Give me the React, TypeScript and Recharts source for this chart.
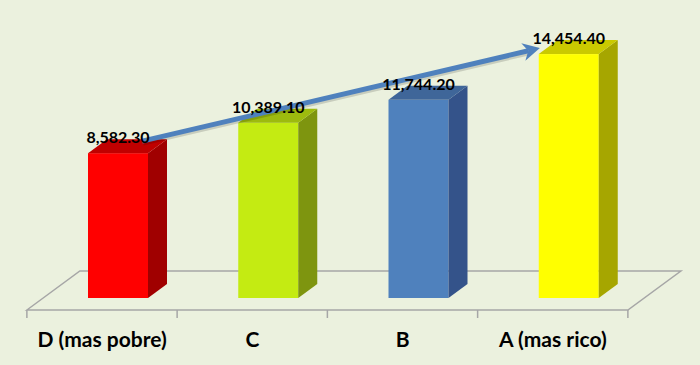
import React from 'react';
import { BarChart, Bar, XAxis, YAxis, LabelList, ReferenceLine } from 'recharts';

// ---- data ----
const categories = ['D (mas pobre)', 'C', 'B', 'A (mas rico)'];
const values = [8582.3, 10389.1, 11744.2, 14454.4];
const valueLabels = ['8,582.30', '10,389.10', '11,744.20', '14,454.40'];
const frontColors = ['#FF0000', '#C4EB12', '#4F81BD', '#FFFF00'];
const sideColors = ['#A00000', '#7E950F', '#34538A', '#A6A600'];
const topColors = ['#C00000', '#9DBB0E', '#3F6699', '#CACA00'];

const data = categories.map((c, i) => ({ name: c, value: values[i], label: valueLabels[i] }));

// ---- layout ----
const W = 700;
const H = 365;
const M = { top: 40, right: 72, bottom: 10, left: 27 };
const X_AXIS_H = 45;
const PLOT_W = W - M.left - M.right;
const BAND = PLOT_W / categories.length;
const BAR = 60;
const SHIFT_X = 16;
const SHIFT_Y = 12;
const DEPTH_X = 19;
const DEPTH_Y = 14;
const FLOOR_X = 53;
const FLOOR_Y = 39;
const FONT = 'Lato, "Open Sans", sans-serif';

const Bar3D = (props: any) => {
  const { x, y, width, height, index } = props;
  if (!height || height <= 0) return null;
  const fx = x + SHIFT_X;
  const fy = y - SHIFT_Y;
  const w = width;
  const h = height;
  const side = `${fx + w},${fy} ${fx + w + DEPTH_X},${fy - DEPTH_Y} ${fx + w + DEPTH_X},${fy + h - DEPTH_Y} ${fx + w},${fy + h}`;
  const top = `${fx},${fy} ${fx + DEPTH_X},${fy - DEPTH_Y} ${fx + w + DEPTH_X},${fy - DEPTH_Y} ${fx + w},${fy}`;
  return (
    <g>
      <rect x={fx} y={fy} width={w} height={h} fill={frontColors[index]} />
      <polygon points={side} fill={sideColors[index]} />
      <polygon points={top} fill={topColors[index]} />
    </g>
  );
};

const FloorBg = (props: any) => {
  const { x, y, height, index } = props;
  if (index !== 0) return <g />;
  const left = x - (BAND - BAR) / 2;
  const bottom = y + height;
  const right = left + PLOT_W;
  const pts = `${left},${bottom} ${left + FLOOR_X},${bottom - FLOOR_Y} ${right + FLOOR_X},${bottom - FLOOR_Y} ${right},${bottom}`;
  const ticks = [];
  for (let i = 0; i <= categories.length; i++) {
    const tx = left + i * BAND;
    ticks.push(<line key={i} x1={tx} x2={tx} y1={bottom} y2={bottom + 8} stroke="#A6A6A6" strokeWidth={1.5} />);
  }
  return (
    <g>
      <polygon points={pts} fill="none" stroke="#A6A6A6" strokeWidth={1.5} />
      {ticks}
    </g>
  );
};

const Arrow = (p: any) => {
  if (p.x1 == null) return null;
  const x1 = p.x1 + 40;
  const y1 = p.y1 - 24;
  const x2 = p.x2 - 13;
  const y2 = p.y2 - 18;
  const dx = x2 - x1;
  const dy = y2 - y1;
  const len = Math.sqrt(dx * dx + dy * dy);
  const ux = dx / len;
  const uy = dy / len;
  const nx = -uy;
  const ny = ux;
  const L = 17;
  const HW = 9;
  const bx = x2 - ux * L;
  const by = y2 - uy * L;
  const notchX = x2 - ux * L * 0.7;
  const notchY = y2 - uy * L * 0.7;
  const head = `${x2},${y2} ${bx + nx * HW},${by + ny * HW} ${notchX},${notchY} ${bx - nx * HW},${by - ny * HW}`;
  return (
    <g>
      <line x1={x1 + 1} y1={y1 + 2} x2={notchX + 1} y2={notchY + 2} stroke="rgba(0,0,0,0.15)" strokeWidth={5} />
      <line x1={x1} y1={y1} x2={notchX} y2={notchY} stroke="#4F81BD" strokeWidth={5} />
      <polygon points={head} fill="#4F81BD" />
    </g>
  );
};

const Tick = (props: any) => {
  const { x, y, payload } = props;
  return (
    <text x={x} y={y + 37} textAnchor="middle" fontFamily={FONT} fontWeight="bold" fontSize={21} fill="#000">
      {payload.value}
    </text>
  );
};

const ValueLabel = (p: any) => {
  const { x, y, width, value } = p;
  return (
    <text x={x + width / 2 + SHIFT_X} y={y - SHIFT_Y - 10} textAnchor="middle" fontFamily={FONT} fontWeight="bold" fontSize={16} fill="#000">
      {value}
    </text>
  );
};

export default function App() {
  return (
    <div style={{ position: 'fixed', left: 0, top: 0, width: W, height: H, background: '#EBF1DE' }}>
      <BarChart width={W} height={H} data={data} margin={M} barSize={BAR}>
        <XAxis
          dataKey="name"
          height={X_AXIS_H}
          axisLine={false}
          tickLine={false}
          tickSize={0}
          tickMargin={0}
          interval={0}
          tick={<Tick />}
        />
        <YAxis hide domain={[0, 16000]} />
        <Bar dataKey="value" isAnimationActive={false} shape={<Bar3D />} background={<FloorBg />}>
          <LabelList dataKey="label" content={<ValueLabel />} />
        </Bar>
        <ReferenceLine
          segment={[
            { x: categories[0], y: values[0] },
            { x: categories[3], y: values[3] },
          ]}
          ifOverflow="visible"
          shape={<Arrow />}
        />
      </BarChart>
    </div>
  );
}
